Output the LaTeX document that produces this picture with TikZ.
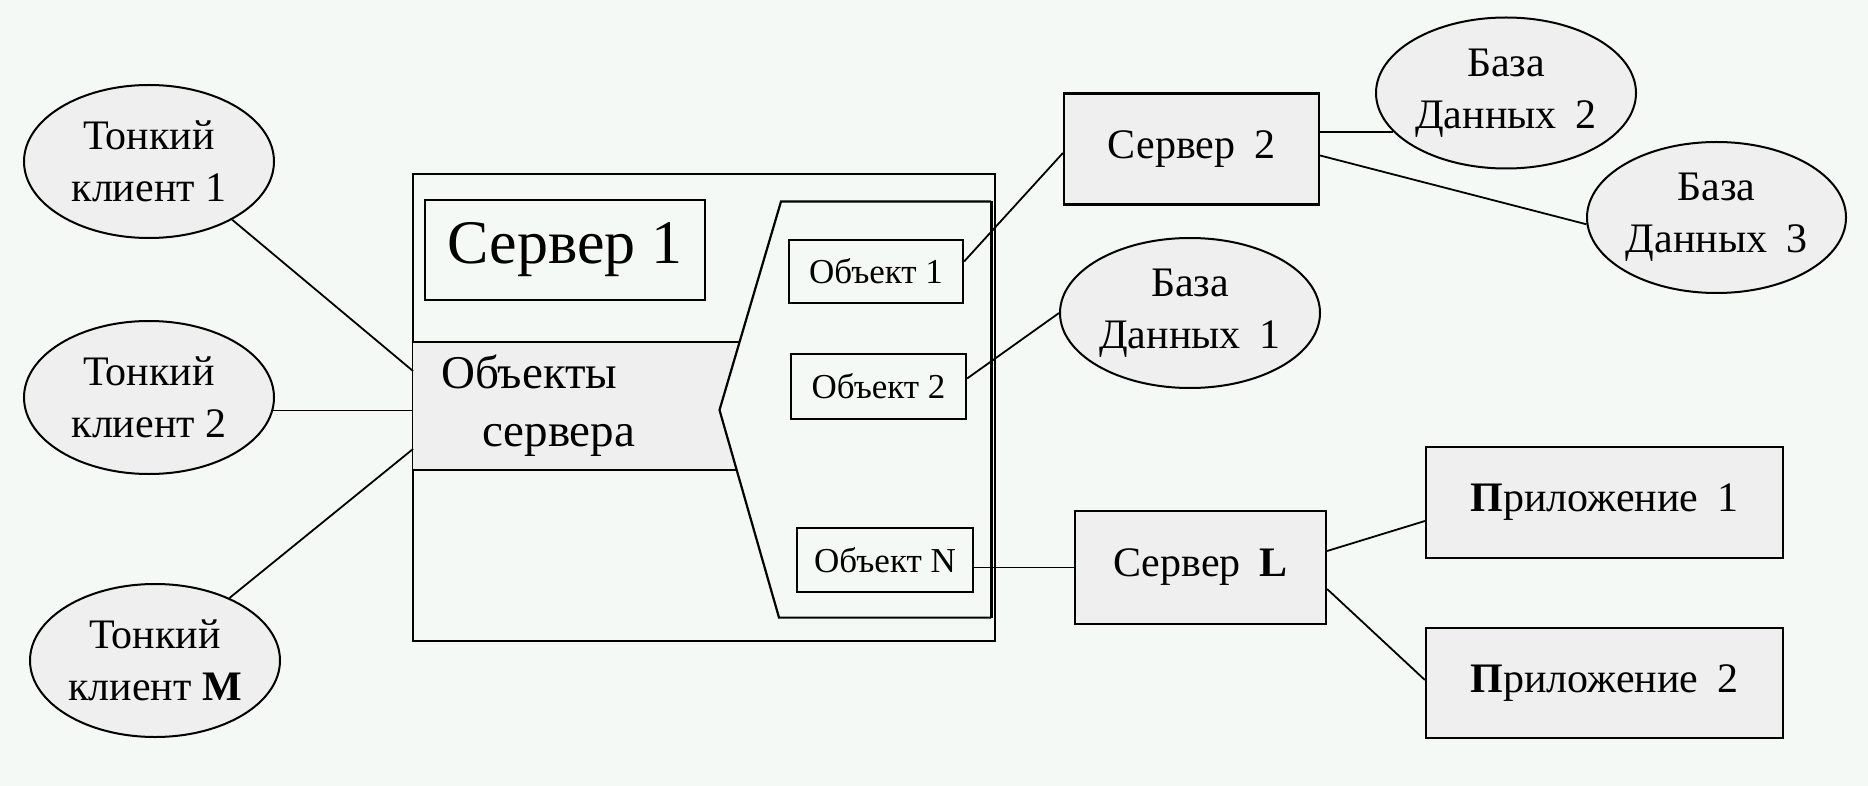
\documentclass[tikz,border=0pt]{standalone}
\usepackage{fontspec}
\setmainfont{Liberation Serif}
\usetikzlibrary{shapes.geometric}
\definecolor{bgc}{RGB}{245,249,246}
\definecolor{fillc}{RGB}{239,239,239}
\newcommand{\gp}{\hspace{0.45em}}
\begin{document}
\begin{tikzpicture}[x=1pt,y=-1pt,
 ell/.style={ellipse,draw,fill=fillc,line width=2pt,inner sep=0pt,align=center,font=\fontsize{42}{52}\selectfont},
 gbox/.style={rectangle,draw,fill=fillc,line width=2.2pt,inner sep=0pt,align=center,font=\fontsize{42}{52}\selectfont},
 obox/.style={rectangle,draw,line width=2.2pt,inner sep=0pt,font=\fontsize{35}{40}\selectfont},
 conn/.style={line width=1.8pt}]
\fill[bgc] (0,0) rectangle (1868,786);
\useasboundingbox (0,0) rectangle (1868,786);
% server 1 frame
\node[draw,line width=2.2pt,minimum width=582pt,minimum height=467pt,inner sep=0pt] (srv1) at (704,407.5) {};
% band
\fill[fillc] (413,342) -- (739.6,342) -- (719.5,410) -- (736.7,470) -- (413,470) -- cycle;
\draw[line width=2.2pt] (413,342) -- (739.6,342);
\draw[line width=2.2pt] (413,470) -- (736.7,470);
\draw[line width=2.2pt] (991,201.5) -- (781,201.5) -- (719.5,410) -- (779,617.6) -- (991,617.6);
\draw[line width=3pt] (991,201.5) -- (991,617.6);
\node[anchor=west,align=left,inner sep=0pt,font=\fontsize{47}{58}\selectfont] (objtxt) at (441,406) {Объекты\\\hspace*{41pt}сервера};
\node[draw,line width=2.2pt,minimum width=280pt,minimum height=100pt,inner sep=0pt,font=\fontsize{62}{70}\selectfont] (lbl) at (565,250) {Сервер 1};
\node[obox,minimum width=174pt,minimum height=63pt] (o1) at (876,271.5) {Объект 1};
\node[obox,minimum width=175pt,minimum height=65pt] (o2) at (878.5,386.5) {Объект 2};
\node[obox,minimum width=176pt,minimum height=64pt] (oN) at (885,560) {Объект N};
% clients
\node[ell,minimum width=250pt,minimum height=153pt] (tk1) at (149,161.5) {Тонкий\\клиент 1};
\node[ell,minimum width=250pt,minimum height=153pt] (tk2) at (149,397.5) {Тонкий\\клиент 2};
\node[ell,minimum width=250pt,minimum height=153pt] (tkM) at (155,660.5) {Тонкий\\клиент \textbf{M}};
% servers and databases
\node[gbox,minimum width=255pt,minimum height=111pt] (s2) at (1191.5,149) {Сервер\gp 2};
\node[gbox,minimum width=251pt,minimum height=113pt] (sL) at (1200.5,567.5) {Сервер\gp \textbf{L}};
\node[gbox,minimum width=357pt,minimum height=111pt] (p1) at (1604.5,502.5) {\textbf{П}риложение\gp 1};
\node[gbox,minimum width=357pt,minimum height=110pt] (p2) at (1604.5,683) {\textbf{П}риложение\gp 2};
\node[ell,minimum width=260pt,minimum height=151pt] (bd2) at (1506,93) {База\\Данных\gp 2};
\node[ell,minimum width=259pt,minimum height=151pt] (bd3) at (1716.5,217.5) {База\\Данных\gp 3};
\node[ell,minimum width=260pt,minimum height=150pt] (bd1) at (1190,313) {База\\Данных\gp 1};
% connection points on server 1 frame
\coordinate (c1) at (413,371);
\coordinate (c3) at (413,449);
% connectors
\draw[conn] (tk1.-35) -- (c1);
\draw[conn] (tk2.-6) -- (tk2.-6 -| srv1.west);
\draw[conn] (tkM.40) -- (c3);
\draw[conn] ([yshift=10pt]o1.east) -- ([yshift=-4pt]s2.west);
\draw[conn] ([yshift=8pt]o2.east) -- (bd1.west);
\draw[conn] (oN.east |- sL.west) -- (sL.west);
\draw[conn] (s2.east |- bd2.199) -- (bd2.199);
\draw[conn] ([yshift=-6.5pt]s2.east) -- (bd3.183);
\draw[conn] ([yshift=16.5pt]sL.east) -- ([yshift=-18.5pt]p1.west);
\draw[conn] ([yshift=-21.5pt]sL.east) -- ([yshift=3pt]p2.west);
\end{tikzpicture}
\end{document}
